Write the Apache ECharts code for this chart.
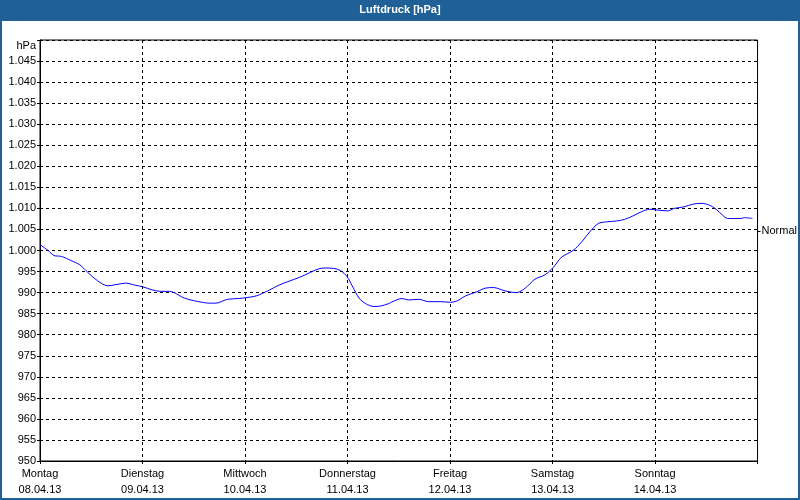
<!DOCTYPE html>
<html>
<head>
<meta charset="utf-8">
<script src="https://cdn.jsdelivr.net/npm/echarts@6/dist/echarts.min.js"></script>
<style>html,body{margin:0;padding:0;background:#fff}#c{width:800px;height:500px}</style>
</head>
<body>
<div id="c"></div>
<script>
// Hours since Montag 08.04.13 00:00
var hours = [0, 1.9, 3.3, 5.0, 7.3, 9.3, 11.2, 13.5, 15.9, 17.8, 20.1, 22.1, 24.0, 26.4, 28.3, 30.3, 31.4, 33.8, 36.9, 39.6,
  41.2, 43.9, 46.7, 48.2, 50.6, 53.7, 56.0, 58.3, 60.7, 63.0, 64.6, 66.5, 68.8, 70.4, 71.9, 73.1, 74.7, 76.2, 78.2, 79.7,
  81.7, 82.4, 84.8, 86.3, 88.7, 91.0, 93.7, 96.1, 97.6, 99.6, 102.3, 104.2, 106.2, 108.9, 111.6, 113.6, 115.9, 118.2, 120.2,
  122.1, 124.8, 126.8, 128.7, 130.7, 132.6, 134.9, 136.9, 138.8, 140.8, 142.7, 144.7, 147.0, 148.5, 150.9, 152.8, 154.8,
  156.7, 158.3, 159.8, 161.0, 164.1, 164.9, 166.8];
// Luftdruck in hPa
var pressure = [1001.4, 1000.0, 998.8, 998.6, 997.6, 996.6, 994.8, 992.8, 991.6, 991.9, 992.25, 991.8, 991.4, 990.6, 990.3, 990.3, 990.0, 988.7, 987.9, 987.5,
  987.5, 988.4, 988.6, 988.8, 989.2, 990.6, 991.8, 992.7, 993.6, 994.65, 995.4, 995.85, 995.75, 995.2, 993.8, 991.6, 988.7, 987.4, 986.7, 986.8,
  987.4, 987.8, 988.6, 988.25, 988.4, 987.85, 987.85, 987.7, 988.0, 989.2, 990.2, 991.05, 991.2, 990.4, 990.0, 991.05, 993.2, 994.2, 996.0,
  998.4, 1000.0, 1002.0, 1004.4, 1006.4, 1006.8, 1007.0, 1007.4, 1008.2, 1009.2, 1009.8, 1009.6, 1009.4, 1010.0, 1010.4, 1011.0, 1011.2,
  1010.8, 1009.8, 1008.4, 1007.6, 1007.6, 1007.8, 1007.6];
var dayNames = ['Montag', 'Dienstag', 'Mittwoch', 'Donnerstag', 'Freitag', 'Samstag', 'Sonntag'];
var dates = ['08.04.13', '09.04.13', '10.04.13', '11.04.13', '12.04.13', '13.04.13', '14.04.13'];
var normalValue = 1004.6;

var FONT = 'Liberation Sans';
var chart = echarts.init(document.getElementById('c'));
chart.setOption({
  backgroundColor: '#fff',
  animation: false,
  graphic: [
    { type: 'rect', z: -10, shape: { x: 0, y: 0, width: 800, height: 21 }, style: { fill: '#1f6196' } },
    { type: 'rect', z: -10, shape: { x: 1, y: 1, width: 798, height: 498 }, style: { fill: 'none', stroke: '#1f6196', lineWidth: 2 } }
  ],
  title: {
    text: 'Luftdruck [hPa]', left: 'center', top: 4, padding: 0,
    textStyle: { color: '#fff', fontFamily: FONT, fontSize: 11, fontWeight: 'bold' }
  },
  grid: { left: 40, right: 40, top: 40, bottom: 39, show: true, borderColor: '#000', borderWidth: 1, backgroundColor: 'transparent' },
  xAxis: {
    type: 'value', min: 0, max: 168, interval: 24,
    axisLine: { show: true, lineStyle: { color: '#000', width: 1 } },
    axisTick: { show: true, length: 3, inside: false, lineStyle: { color: '#000' } },
    splitLine: { show: true, lineStyle: { color: '#000', type: [3, 3], width: 1 } },
    axisLabel: {
      color: '#000', fontFamily: FONT, fontSize: 11, lineHeight: 16, margin: 5,
      formatter: function (v) { var i = Math.round(v / 24); return i < dayNames.length ? dayNames[i] + '\n' + dates[i] : ''; }
    }
  },
  yAxis: [{
    type: 'value', min: 950, max: 1050, interval: 5,
    axisLine: { show: true, lineStyle: { color: '#000', width: 1 } },
    axisTick: { show: true, length: 3, lineStyle: { color: '#000' } },
    splitLine: { show: true, lineStyle: { color: '#000', type: [3, 3], width: 1 } },
    axisLabel: {
      color: '#000', fontFamily: FONT, fontSize: 11, margin: 4,
      formatter: function (v) {
        if (v === 1050) return '{u|hPa}';
        if (v >= 1000) return '1.' + String(v - 1000).padStart(3, '0');
        return String(v);
      },
      rich: { u: { color: '#000', fontFamily: FONT, fontSize: 11, padding: [12, 0, 0, 0] } }
    }
  }, {
    type: 'value', min: 950, max: 1050, position: 'right',
    axisLine: { show: false },
    splitLine: { show: false },
    axisTick: { show: true, length: 3, customValues: [normalValue], lineStyle: { color: '#000' } },
    axisLabel: { show: true, customValues: [normalValue], margin: 4, color: '#000', fontFamily: FONT, fontSize: 11, formatter: function () { return 'Normal'; } }
  }],
  series: [{
    type: 'line', yAxisIndex: 0, showSymbol: false, smooth: 0.3,
    lineStyle: { color: '#0000ff', width: 1 },
    data: hours.map(function (h, i) { return [h, pressure[i]]; })
  }]
});
</script>
</body>
</html>
